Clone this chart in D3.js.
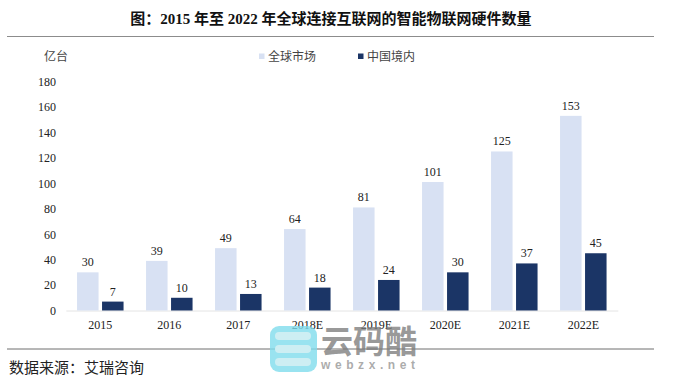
<!DOCTYPE html>
<html lang="zh-CN">
<head>
	<meta charset="UTF-8">
	<title>智能物联网硬件数量</title>
	<style>
		html, body { margin: 0; padding: 0; background: #fff; }
		svg { display: block; }
		text { font-family: "Liberation Serif", "Noto Sans CJK SC", serif; fill: #222; }
	</style>
</head>
<body>
	<script src="https://cdn.jsdelivr.net/npm/d3@7/dist/d3.min.js"></script>
	<script>
		var categories = ["2015", "2016", "2017", "2018E", "2019E", "2020E", "2021E", "2022E"];
		var globalValues = [30, 39, 49, 64, 81, 101, 125, 153];
		var chinaValues = [7, 10, 13, 18, 24, 30, 37, 45];
		var yTicks = [0, 20, 40, 60, 80, 100, 120, 140, 160, 180];
		var seriesNames = ["全球市场", "中国境内"];
		var seriesColors = ["#d8e1f3", "#1b3566"];

		var width = 691,
			height = 383,
			plotLeft = 65.8,
			plotRight = 617.8,
			plotBottom = 310.5,
			plotTop = 81.5,
			barWidth = 21.5,
			barGap = 3.5;

		var svg = d3.select("body")
			.append("svg")
			.attr("width", width)
			.attr("height", height);

		var x = d3.scaleBand()
			.domain(categories)
			.range([plotLeft, plotRight]);

		var y = d3.scaleLinear()
			.domain([0, 180])
			.range([plotBottom, plotTop]);

		// title and rules
		svg.append("text")
			.attr("x", 331)
			.attr("y", 24)
			.attr("text-anchor", "middle")
			.attr("font-size", 15)
			.attr("font-weight", "bold")
			.style("fill", "#111")
			.text("图：2015 年至 2022 年全球连接互联网的智能物联网硬件数量");

		svg.append("line")
			.attr("x1", 7).attr("x2", 654)
			.attr("y1", 36.5).attr("y2", 36.5)
			.attr("stroke", "#8c8c8c")
			.attr("stroke-width", 1.2);

		svg.append("line")
			.attr("x1", 7).attr("x2", 654)
			.attr("y1", 349).attr("y2", 349)
			.attr("stroke", "#6e6e6e")
			.attr("stroke-width", 1);

		svg.append("text")
			.attr("x", 9)
			.attr("y", 373)
			.attr("font-size", 15)
			.text("数据来源：艾瑞咨询");

		// y axis
		var yAxis = d3.axisLeft(y)
			.tickValues(yTicks)
			.tickSize(0)
			.tickPadding(0);

		var yGroup = svg.append("g")
			.attr("transform", "translate(56,0)")
			.call(yAxis);
		yGroup.select(".domain").remove();
		yGroup.selectAll("text")
			.attr("font-size", 12)
			.style("font-family", "'Liberation Serif', serif");

		svg.append("text")
			.attr("x", 44)
			.attr("y", 61)
			.attr("font-size", 12)
			.style("fill", "#444")
			.text("亿台");

		// x axis
		var xAxis = d3.axisBottom(x)
			.tickSize(0)
			.tickPadding(10);

		var xGroup = svg.append("g")
			.attr("transform", "translate(0," + plotBottom + ")")
			.call(xAxis);
		xGroup.select(".domain")
			.attr("stroke", "#e4e4e4")
			.attr("stroke-width", 1);
		xGroup.selectAll("text")
			.attr("font-size", 12)
			.style("font-family", "'Liberation Serif', serif");

		// bars
		function drawSeries(values, color, offset) {
			svg.append("g")
				.selectAll("rect")
				.data(values)
				.join("rect")
				.attr("x", function(d, i) { return x(categories[i]) + x.bandwidth() / 2 + offset; })
				.attr("y", function(d) { return y(d); })
				.attr("width", barWidth)
				.attr("height", function(d) { return plotBottom - y(d); })
				.attr("fill", color);

			svg.append("g")
				.selectAll("text")
				.data(values)
				.join("text")
				.attr("x", function(d, i) { return x(categories[i]) + x.bandwidth() / 2 + offset + barWidth / 2; })
				.attr("y", function(d) { return y(d) - 6; })
				.attr("text-anchor", "middle")
				.attr("font-size", 12)
				.text(function(d) { return d; });
		}

		drawSeries(globalValues, seriesColors[0], -barWidth - barGap / 2);
		drawSeries(chinaValues, seriesColors[1], barGap / 2);

		// legend
		var legendX = [259, 358];
		seriesNames.forEach(function(name, i) {
			svg.append("rect")
				.attr("x", legendX[i])
				.attr("y", 53.5)
				.attr("width", 5.5)
				.attr("height", 5.5)
				.attr("fill", seriesColors[i]);
			svg.append("text")
				.attr("x", legendX[i] + 9)
				.attr("y", 61)
				.attr("font-size", 12)
				.style("fill", "#444")
				.text(name);
		});

		// site watermark on top of the chart
		var mark = svg.append("g");
		mark.append("rect")
			.attr("x", 270).attr("y", 326)
			.attr("width", 47).attr("height", 46)
			.attr("rx", 9)
			.attr("fill", "#7fdcec")
			.attr("opacity", 0.8);
		[332, 345, 358].forEach(function(py) {
			mark.append("rect")
				.attr("x", 275).attr("y", py)
				.attr("width", 36).attr("height", 8)
				.attr("rx", 4)
				.attr("fill", "#cdeef3");
		});
		mark.append("text")
			.attr("x", 321)
			.attr("y", 353)
			.attr("font-size", 32)
			.attr("font-weight", "bold")
			.style("font-family", "'Noto Sans CJK SC'")
			.style("fill", "rgba(125,125,125,0.8)")
			.text("云码酷");
		mark.append("text")
			.attr("x", 321)
			.attr("y", 369)
			.attr("font-size", 12)
			.attr("font-weight", "bold")
			.attr("textLength", 94)
			.style("font-family", "'Liberation Sans'")
			.style("fill", "rgba(150,150,150,0.8)")
			.text("webzx.net");
	</script>
</body>
</html>
